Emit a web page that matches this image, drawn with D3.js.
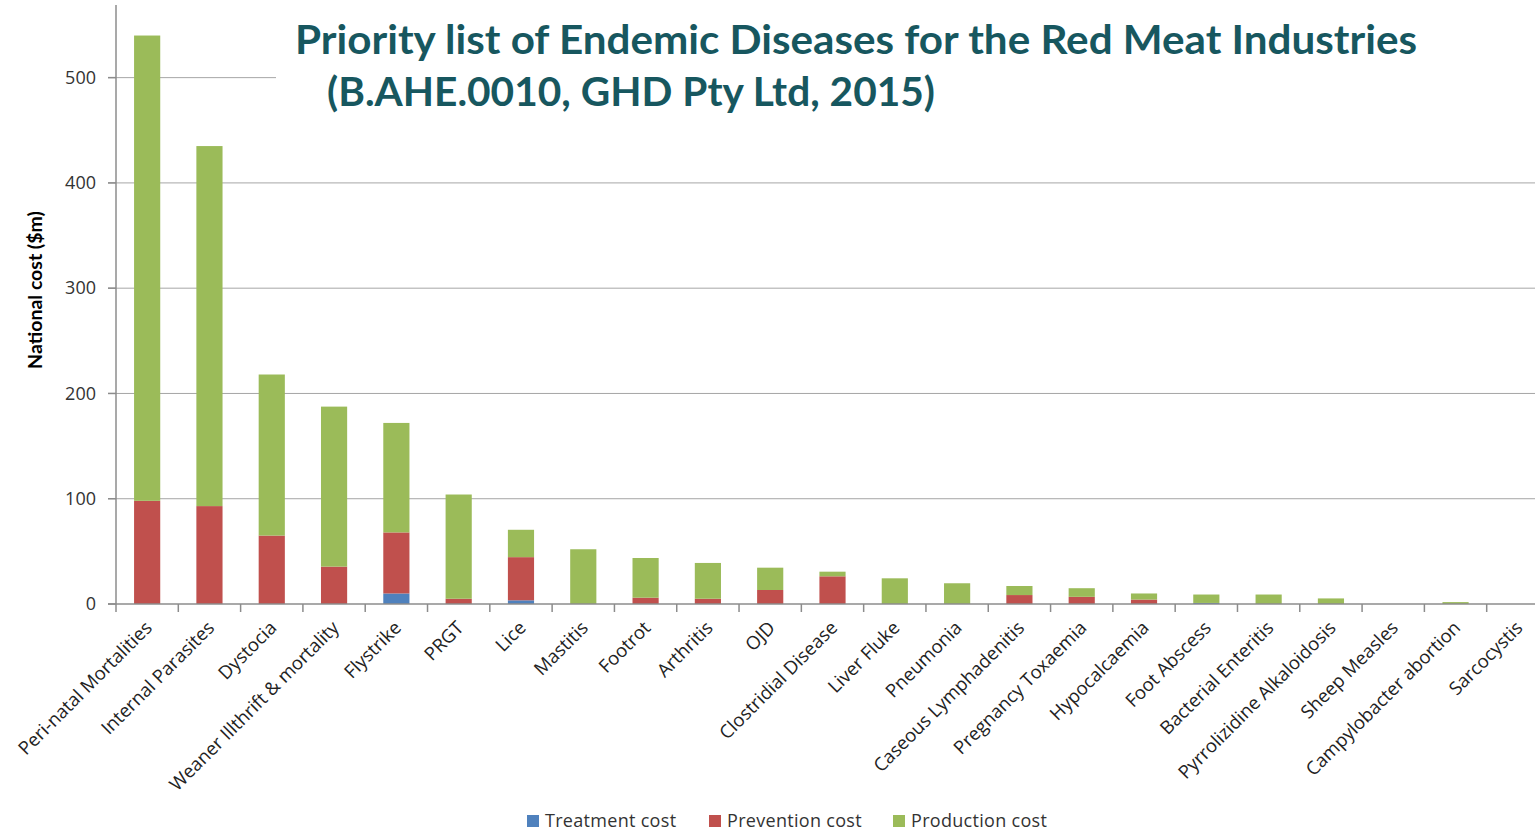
<!DOCTYPE html>
<html lang="en">
<head>
    <meta charset="UTF-8">
    <title>Priority list of Endemic Diseases</title>
    <script src="https://d3js.org/d3.v7.min.js"></script>
    <style>
        body { margin: 0; background: #fff; }
        .tick-label { font: 18px "Open Sans", sans-serif; fill: #333; }
        .cat-label { font: 18.5px "Open Sans", sans-serif; fill: #222; }
        .legend-label { font: 18px "Open Sans", sans-serif; fill: #333; letter-spacing: 0.3px; }
        .title { font-family: Lato, sans-serif; font-weight: bold; fill: #17575f; }
        .grid { stroke: #a6a6a6; stroke-width: 1; }
        .axis-line { stroke: #8c8c8c; stroke-width: 1.5; }
    </style>
</head>
<body>
    <svg width="1535" height="833"></svg>

    <script>
        // data ($m)
        const categories = ["Peri-natal Mortalities", "Internal Parasites", "Dystocia",
            "Weaner Illthrift & mortality", "Flystrike", "PRGT", "Lice", "Mastitis", "Footrot",
            "Arthritis", "OJD", "Clostridial Disease", "Liver Fluke", "Pneumonia",
            "Caseous Lymphadenitis", "Pregnancy Toxaemia", "Hypocalcaemia", "Foot Abscess",
            "Bacterial Enteritis", "Pyrrolizidine Alkaloidosis", "Sheep Measles",
            "Campylobacter abortion", "Sarcocystis"];
        const treatmentCost  = [0, 0, 0, 0, 10, 0, 3.5, 0, 0, 0, 0, 0, 0, 0, 0, 0, 0, 1, 0, 0, 0, 0, 0];
        const preventionCost = [98, 93, 65, 35.5, 58, 5, 41, 0, 6, 5, 13.3, 26.3, 0, 0, 8.5, 6.8, 4.2, 0, 0, 0, 0, 0, 0];
        const productionCost = [442, 342, 153, 152, 104, 99, 26, 52, 37.7, 34, 21.2, 4.4, 24.4, 19.7, 8.6, 8.2, 5.8, 8, 9, 5.3, 0, 1.8, 0];
        const seriesNames = ["Treatment cost", "Prevention cost", "Production cost"];
        const yTicks = [0, 100, 200, 300, 400, 500];

        const colors = ["#4f81bd", "#c0504d", "#9bbb59"];

        const rows = categories.map((c, i) => ({
            cat: c,
            "Treatment cost": treatmentCost[i],
            "Prevention cost": preventionCost[i],
            "Production cost": productionCost[i]
        }));

        const svg = d3.select("svg");

        // plot area runs past the right edge, like the original
        const x = d3.scaleBand().domain(categories).range([116, 1549])
            .paddingInner(0.58).paddingOuter(0.29);
        const y = d3.scaleLinear().domain([0, 569]).range([604, 5]);

        // gridlines
        svg.append("g").selectAll("line")
            .data(yTicks.filter(d => d > 0))
            .enter().append("line")
            .attr("class", "grid")
            .attr("x1", 108).attr("x2", 1535)
            .attr("y1", d => y(d)).attr("y2", d => y(d));

        // title box hides part of the 500 gridline
        svg.append("rect").attr("x", 276).attr("y", 8)
            .attr("width", 1259).attr("height", 120).attr("fill", "#fff");

        // stacked bars
        const stacked = d3.stack().keys(seriesNames)(rows);
        svg.append("g").selectAll("g")
            .data(stacked)
            .enter().append("g")
            .attr("fill", (d, i) => colors[i])
            .selectAll("rect")
            .data(d => d)
            .enter().append("rect")
            .attr("x", d => x(d.data.cat))
            .attr("width", x.bandwidth())
            .attr("y", d => y(d[1]))
            .attr("height", d => y(d[0]) - y(d[1]));

        // y axis
        svg.append("line").attr("class", "axis-line")
            .attr("x1", 116).attr("x2", 116).attr("y1", y.range()[1]).attr("y2", y(0));
        const yt = svg.append("g").selectAll("g").data(yTicks).enter().append("g");
        yt.append("line").attr("class", "axis-line")
            .attr("x1", 108).attr("x2", 116).attr("y1", d => y(d)).attr("y2", d => y(d));
        yt.append("text").attr("class", "tick-label")
            .attr("x", 96).attr("y", d => y(d)).attr("dy", "0.35em")
            .attr("text-anchor", "end").text(d => d);

        // x axis
        svg.append("line").attr("class", "axis-line")
            .attr("x1", 108).attr("x2", 1535).attr("y1", y(0)).attr("y2", y(0));
        svg.append("g").selectAll("line")
            .data(d3.range(categories.length + 1))
            .enter().append("line").attr("class", "axis-line")
            .attr("x1", i => x.range()[0] + i * x.step())
            .attr("x2", i => x.range()[0] + i * x.step())
            .attr("y1", y(0)).attr("y2", y(0) + 8);

        svg.append("g").selectAll("text")
            .data(categories)
            .enter().append("text")
            .attr("class", "cat-label")
            .attr("text-anchor", "end")
            .attr("transform", d => `translate(${x(d) + x.bandwidth() / 2 + 6},${y(0) + 25}) rotate(-45)`)
            .text(d => d);

        // axis title
        svg.append("text")
            .attr("transform", "translate(42,290) rotate(-90)")
            .attr("text-anchor", "middle")
            .style("font", "bold 19.5px Lato, sans-serif")
            .style("fill", "#000")
            .text("National cost ($m)");

        // chart title
        const titleLines = [
            { text: "Priority list of Endemic Diseases for the Red Meat Industries", x: 295, y: 54, w: 1122 },
            { text: "(B.AHE.0010, GHD Pty Ltd, 2015)", x: 327, y: 106, w: 608 }
        ];
        titleLines.forEach(t => {
            const el = svg.append("text").attr("class", "title")
                .attr("x", t.x).attr("y", t.y)
                .style("font-size", "40px")
                .text(t.text);
            const len = el.node().getComputedTextLength();
            if (Math.abs(len - t.w) > 4) {
                el.attr("textLength", t.w).attr("lengthAdjust", "spacingAndGlyphs");
            }
        });

        // legend
        const legendX = [527, 709, 893];
        const lg = svg.append("g").selectAll("g")
            .data(seriesNames)
            .enter().append("g")
            .attr("transform", (d, i) => `translate(${legendX[i]},815)`);
        lg.append("rect").attr("width", 12).attr("height", 12)
            .attr("fill", (d, i) => colors[i]);
        lg.append("text").attr("class", "legend-label")
            .attr("x", 18).attr("y", 12).text(d => d);
    </script>
</body>
</html>
